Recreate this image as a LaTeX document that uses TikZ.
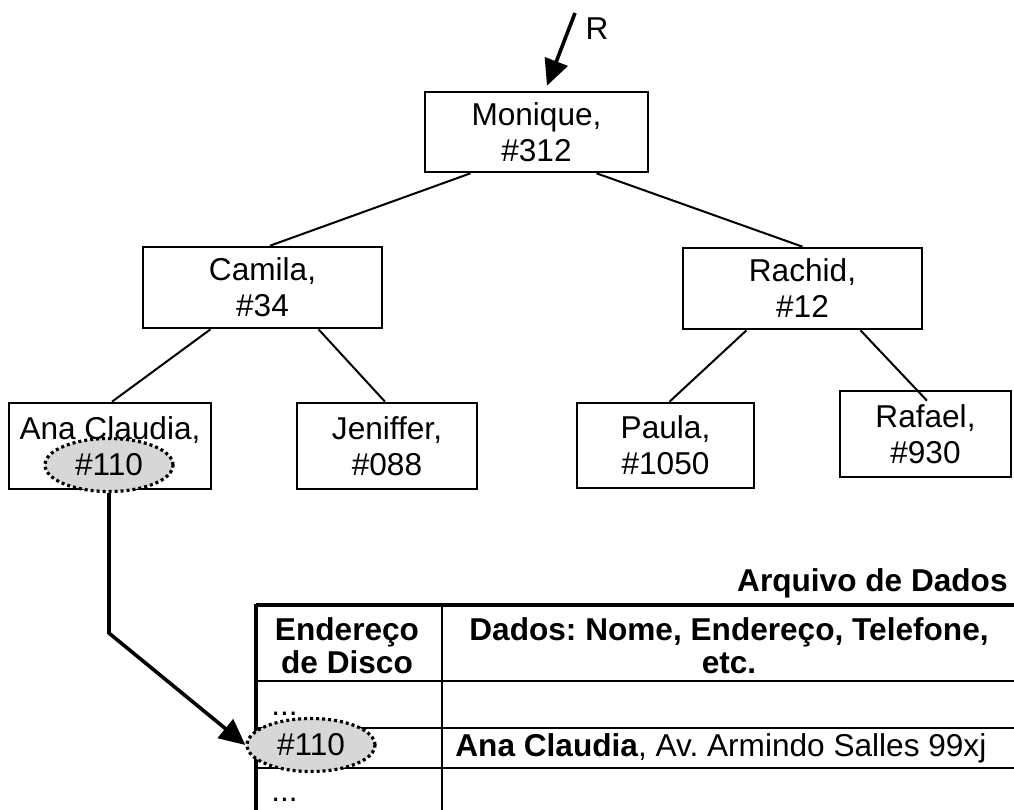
\documentclass[tikz,border=0pt]{standalone}
\usepackage{fontspec}
\setmainfont{Liberation Sans}
\frenchspacing
\usetikzlibrary{arrows.meta,positioning,shapes.geometric}
\definecolor{keygray}{RGB}{215,215,215}
\tikzset{
 treebox/.style={
 rectangle,
 draw=black,
 line width=1.3pt,
 align=center,
 inner sep=0pt,
 font=\fontsize{15.8}{18}\selectfont
 },
 keymark/.style={
 ellipse,
 draw=black,
 fill=keygray,
 line width=1.6pt,
 dash pattern=on 1.5pt off 1.5pt,
 inner sep=0pt,
 minimum width=64pt,
 minimum height=26.5pt,
 font=\fontsize{15.8}{18}\selectfont
 },
 tabtext/.style={inner sep=0pt, align=center, font=\fontsize{15.8}{16.5}\selectfont},
 headtext/.style={inner sep=0pt, align=center, font=\fontsize{15.8}{16.5}\selectfont\bfseries},
 treeline/.style={line width=1pt},
 ptrarrow/.style={-{Triangle[length=13pt,width=12pt]}, line width=1.8pt},
 outerline/.style={line width=2pt},
 gridline/.style={line width=1.1pt}
}

\begin{document}
\begin{tikzpicture}[x=0.5pt, y=-0.5pt]
 \useasboundingbox (0,0) rectangle (1014,810);
 \clip (0,0) rectangle (1014,810);

 % tree of names
 \node[treebox, minimum width=111.5pt, minimum height=40pt] (monique) at (536.5,132) {Monique,\\\#312};
 \node[treebox, minimum width=119.5pt, minimum height=40.5pt] (camila) at (262.5,287.5) {Camila,\\\#34};
 \node[treebox, minimum width=119.5pt, minimum height=40.5pt] (rachid) at (802.5,288.5) {Rachid,\\\#12};
 \node[treebox, minimum width=101pt, minimum height=43pt] (ana) at (110,446) {Ana Claudia,\\\phantom{\#110}};
 \node[treebox, minimum width=90pt, minimum height=43pt] (jeniffer) at (387,446) {Jeniffer,\\\#088};
 \node[treebox, minimum width=88.5pt, minimum height=42.5pt] (paula) at (665.5,445.5) {Paula,\\\#1050};
 \node[treebox, minimum width=85.5pt, minimum height=43pt] (rafael) at (925.5,434) {Rafael,\\\#930};
 \node[keymark] (anakey) at (109,465) {\#110};

 \coordinate (rtail) at (575,13);
 \node[tabtext] (rlabel) at (597,29) {R};
 \draw[ptrarrow] (rtail) -- ([xshift=5.25pt,yshift=2.5pt]monique.north);

 \draw[treeline] ([xshift=-33pt]monique.south) -- ([xshift=3.75pt]camila.north);
 \draw[treeline] ([xshift=30pt]monique.south) -- (rachid.north);
 \draw[treeline] ([xshift=-26pt]camila.south) -- ([xshift=1pt]ana.north);
 \draw[treeline] ([xshift=28pt]camila.south) -- ([xshift=-1pt]jeniffer.north);
 \draw[treeline] ([xshift=-28pt]rachid.south) -- ([xshift=2pt]paula.north);
 \draw[treeline] ([xshift=29pt]rachid.south) -- ([xshift=0.75pt,yshift=-5.5pt]rafael.north);

 % data file
 \node[headtext, anchor=east] (title) at (1008,583) {Arquivo de Dados};
 \draw[gridline] (442,605) -- (442,815);
 \draw[gridline] (256,681) -- (1020,681);
 \draw[gridline] (256,728) -- (1020,728);
 \draw[gridline] (256,768) -- (1020,768);
 \draw[outerline] (256,605) -- (1020,605);
 \draw[outerline] (256,604) -- (256,815);

 \node[headtext] (addrhead) at (347,646) {Endereço\\de Disco};
 \node[headtext] (datahead) at (729,646) {Dados: Nome, Endereço, Telefone,\\etc.};
 \node[tabtext, anchor=west] (dotsup) at (271,714) {...};
 \node[keymark] (diskkey) at (311,745) {\#110};
 \node[tabtext, anchor=west] (record) at (455,748) {\textbf{Ana Claudia}, Av. Armindo Salles 99xj};
 \node[tabtext, anchor=west] (dotsdown) at (271,800) {...};

 \draw[ptrarrow] (anakey.south) -- ++(0,140) -- (diskkey.west);
\end{tikzpicture}
\end{document}
